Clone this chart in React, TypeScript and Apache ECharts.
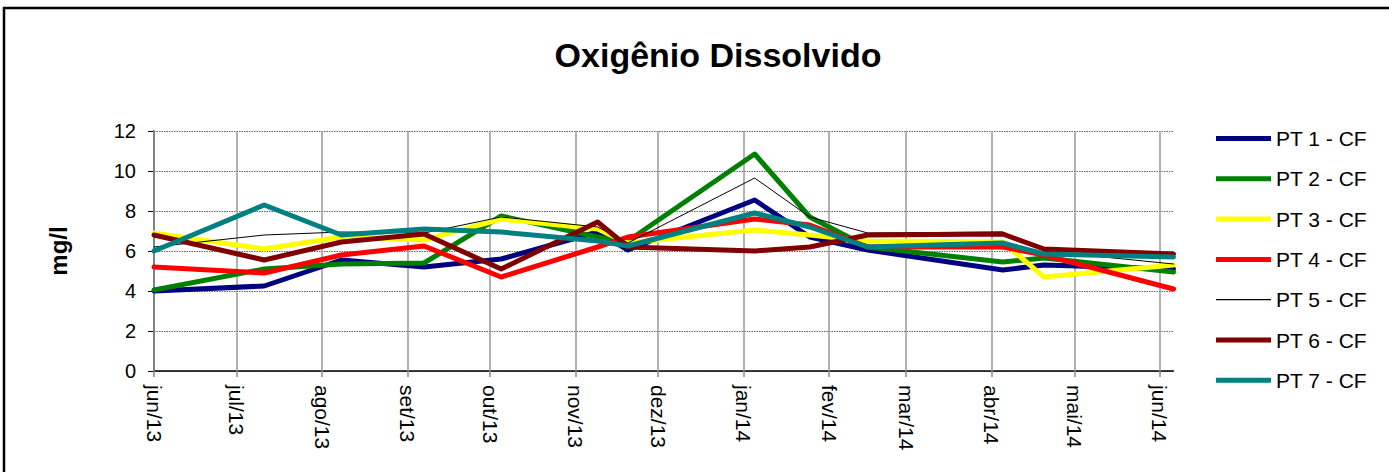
import React, { useEffect, useRef } from "react";
import * as echarts from "echarts";

const FONT = '"Liberation Sans", Arial, Helvetica, sans-serif';

const sampleDates = [
  "2013-06-01", "2013-07-11", "2013-08-08", "2013-09-07", "2013-10-05",
  "2013-11-09", "2013-11-20", "2014-01-05", "2014-01-25", "2014-02-15",
  "2014-04-05", "2014-04-20", "2014-06-06",
];

const pt1 = [4.0, 4.25, 5.55, 5.2, 5.6, 6.95, 6.05, 8.55, 6.7, 6.05, 5.05, 5.3, 5.1];
const pt2 = [4.05, 5.1, 5.35, 5.4, 7.75, 6.7, 6.5, 10.85, 7.7, 6.2, 5.45, 5.65, 4.95];
const pt3 = [6.9, 6.1, 6.7, 6.55, 7.6, 7.1, 6.4, 7.05, 6.8, 6.5, 6.45, 4.7, 5.3];
const pt4 = [5.2, 4.9, 5.8, 6.25, 4.7, 6.2, 6.7, 7.6, 7.3, 6.2, 6.2, 5.8, 4.1];
const pt5 = [6.2, 6.8, 6.95, 6.9, 7.7, 7.2, 6.4, 9.65, 7.7, 6.9, 6.95, 6.0, 5.35];
const pt6 = [6.8, 5.55, 6.45, 6.85, 5.1, 7.45, 6.2, 6.0, 6.2, 6.8, 6.85, 6.1, 5.85];
const pt7 = [6.0, 8.3, 6.8, 7.1, 6.95, 6.5, 6.25, 7.9, 7.2, 6.2, 6.4, 5.85, 5.7];

const seriesNames = ["PT 1 - CF", "PT 2 - CF", "PT 3 - CF", "PT 4 - CF", "PT 5 - CF", "PT 6 - CF", "PT 7 - CF"];
const seriesColors = ["#000080", "#008000", "#FFFF00", "#FF0000", "#000000", "#800000", "#008080"];
const seriesWidths = [5, 5, 5, 5, 1, 5, 5];

const monthNames = ["jan", "fev", "mar", "abr", "mai", "jun", "jul", "ago", "set", "out", "nov", "dez"];

const title = "Oxigênio Dissolvido";
const yAxisTitle = "mg/l";
const yMin = 0;
const yMax = 12;
const yInterval = 2;

export default function App() {
  const ref = useRef<HTMLDivElement>(null);

  useEffect(() => {
    if (!ref.current) return;
    const chart = echarts.init(ref.current, null, { renderer: "svg" });
    const ts = sampleDates.map((d) => Date.parse(d + "T00:00:00Z"));
    const allValues = [pt1, pt2, pt3, pt4, pt5, pt6, pt7];
    const DAY = 86400000;

    // month boundaries between first and last sample
    const monthStarts: number[] = [];
    const first = new Date(ts[0]);
    let y = first.getUTCFullYear();
    let m = first.getUTCMonth();
    for (let k = 0; k < 40; k++) {
      const t = Date.UTC(y, m, 1);
      if (t > ts[ts.length - 1]) break;
      if (t >= ts[0]) monthStarts.push(t);
      m++;
      if (m > 11) { m = 0; y++; }
    }

    const legendIcon = (w: number) => {
      const a = 10 - w / 2;
      const b = 10 + w / 2;
      return `path://M0,0L0.01,0M0,${a}L55,${a}L55,${b}L0,${b}ZM0,20L0.01,20`;
    };

    chart.setOption({
      animation: false,
      useUTC: true,
      textStyle: { fontFamily: FONT },
      graphic: [
        {
          type: "rect",
          silent: true,
          z: 0,
          shape: { x: 4, y: 8, width: 1420, height: 500 },
          style: { fill: "none", stroke: "#000", lineWidth: 2.5 },
        },
        {
          type: "text",
          x: 718,
          y: 55,
          silent: true,
          style: {
            text: title,
            fontFamily: FONT,
            fontSize: 34,
            fontWeight: "bold",
            fill: "#000",
            align: "center",
            verticalAlign: "middle",
          },
        },
      ],
      grid: { left: 154, top: 131, right: 1389 - 1173.5, bottom: 472 - 371 },
      xAxis: {
        type: "time",
        min: ts[0],
        max: ts[ts.length - 1],
        splitNumber: 12,
        minInterval: 28 * DAY,
        maxInterval: 31 * DAY,
        axisLine: { show: true, lineStyle: { color: "#000", width: 1.5 } },
        axisTick: { show: true, length: 6, lineStyle: { color: "#888", width: 1.5 } },
        splitLine: { show: false },
        axisLabel: {
          rotate: -90,
          margin: 14,
          fontSize: 21,
          color: "#000",
          fontFamily: FONT,
          showMaxLabel: false,
          hideOverlap: false,
          formatter: (val: number) => {
            const d = new Date(val);
            return monthNames[d.getUTCMonth()] + "/" + String(d.getUTCFullYear()).slice(2);
          },
        },
      },
      yAxis: {
        type: "value",
        min: yMin,
        max: yMax,
        interval: yInterval,
        name: yAxisTitle,
        nameLocation: "middle",
        nameRotate: 90,
        nameGap: 84,
        nameTextStyle: { fontSize: 24, fontWeight: "bold", color: "#000", fontFamily: FONT },
        axisLine: { show: true, lineStyle: { color: "#000", width: 1.5 } },
        axisTick: { show: true, length: 6, lineStyle: { color: "#000" } },
        splitLine: { show: true, lineStyle: { color: "#666", width: 1, type: [1.5, 1] } },
        axisLabel: { fontSize: 20, color: "#000", margin: 18, fontFamily: FONT },
      },
      legend: {
        orient: "vertical",
        left: 1216,
        top: 128,
        padding: 0,
        itemWidth: 55,
        itemHeight: 20,
        itemGap: 19.3,
        selectedMode: false,
        symbolKeepAspect: false,
        itemStyle: { borderWidth: 0 },
        textStyle: { fontSize: 21, color: "#000", fontFamily: FONT, lineHeight: 20 },
        data: seriesNames.map((n, i) => ({
          name: n,
          icon: legendIcon(seriesWidths[i] === 1 ? 1.2 : 5),
          itemStyle: { color: seriesColors[i], borderWidth: 0 },
        })),
      },
      series: allValues.map((vals, i) => ({
        name: seriesNames[i],
        type: "line",
        data: ts.map((t, j) => [t, vals[j]]),
        showSymbol: false,
        symbol: "none",
        color: seriesColors[i],
        lineStyle: { color: seriesColors[i], width: seriesWidths[i], join: "round", cap: "round" },
        emphasis: { disabled: true },
        z: 2 + i,
        ...(i === 0
          ? {
              markLine: {
                silent: true,
                z: 1,
                symbol: "none",
                animation: false,
                label: { show: false },
                emphasis: { disabled: true },
                lineStyle: { color: "#999", width: 1.5, type: "solid" },
                data: monthStarts.map((t) => ({ xAxis: t })),
              },
            }
          : {}),
      })),
    });

    return () => chart.dispose();
  }, []);

  return (
    <div
      ref={ref}
      style={{ position: "fixed", left: 0, top: 0, width: 1389, height: 472, background: "#fff" }}
    />
  );
}
